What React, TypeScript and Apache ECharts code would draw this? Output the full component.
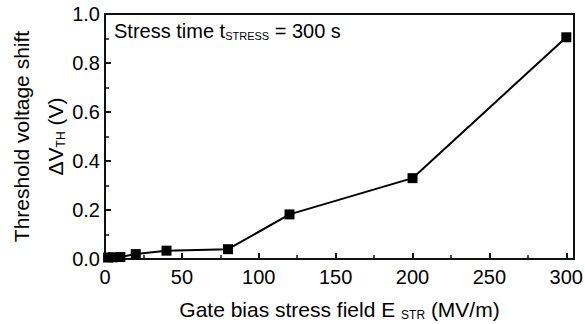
import React, { useEffect, useRef } from "react";
import * as echarts from "echarts";

const fieldValues = [2, 5, 10, 20, 40, 80, 120, 200, 300];
const vthShift = [0.006, 0.007, 0.008, 0.02, 0.034, 0.04, 0.182, 0.33, 0.905];
const xTicks = { min: 0, max: 305, interval: 50 };
const yTicks = { min: 0, max: 1.0, interval: 0.2 };

const FONT = "Liberation Sans, Arial, sans-serif";
const INK = "#111";

function axisParts() {
  return {
    axisLine: { show: true, lineStyle: { color: INK, width: 2 } },
    axisTick: { show: true, inside: true, length: 6, lineStyle: { color: INK, width: 2 } },
    minorTick: { show: true, splitNumber: 2, length: 4, lineStyle: { color: INK, width: 1.5 } },
    splitLine: { show: false },
  };
}

export default function App() {
  const ref = useRef<HTMLDivElement>(null);
  useEffect(() => {
    if (!ref.current) return;
    const chart = echarts.init(ref.current, null, { renderer: "svg" });
    chart.setOption({
      animation: false,
      backgroundColor: "#fff",
      grid: {
        left: 105,
        right: 11,
        top: 14,
        bottom: 65,
        containLabel: false,
        outerBoundsMode: "none",
        show: true,
        borderColor: INK,
        borderWidth: 2,
        backgroundColor: "transparent",
      },
      xAxis: {
        type: "value",
        min: xTicks.min,
        max: xTicks.max,
        interval: xTicks.interval,
        ...axisParts(),
        axisLabel: {
          color: "#000",
          fontFamily: FONT,
          fontSize: 20,
          margin: 8,
          formatter: (v: number) => (v <= 300 ? String(v) : ""),
        },
        name: "Gate bias stress field E {sub|STR} (MV/m)",
        nameLocation: "middle",
        nameGap: 38,
        nameMoveOverlap: false,
        nameTextStyle: {
          color: "#000",
          fontFamily: FONT,
          fontSize: 21,
          rich: {
            sub: { fontSize: 12, fontFamily: FONT, color: "#000", padding: [12, 0, 0, 0] },
          },
        },
      },
      yAxis: {
        type: "value",
        min: yTicks.min,
        max: yTicks.max,
        interval: yTicks.interval,
        ...axisParts(),
        axisLabel: {
          color: "#000",
          fontFamily: FONT,
          fontSize: 20,
          margin: 5,
          formatter: (v: number) => v.toFixed(1),
        },
        name: "Threshold voltage shift\nΔV{sub|TH} (V)",
        nameLocation: "middle",
        nameRotate: 90,
        nameGap: 33,
        nameMoveOverlap: false,
        nameTextStyle: {
          color: "#000",
          fontFamily: FONT,
          fontSize: 21,
          lineHeight: 34,
          rich: {
            sub: { fontSize: 12, fontFamily: FONT, color: "#000", padding: [12, 0, 0, 0] },
          },
        },
      },
      series: [
        {
          type: "line",
          data: fieldValues.map((x, i) => [x, vthShift[i]]),
          symbol: "rect",
          symbolSize: 10,
          itemStyle: { color: "#000" },
          lineStyle: { color: "#000", width: 2 },
          clip: false,
        },
      ],
      graphic: [
        {
          type: "text",
          left: 114,
          top: 21,
          style: {
            text: "Stress time t{sub|STRESS} = 300 s",
            fill: "#000",
            font: `20px ${FONT}`,
            rich: {
              sub: { fontSize: 11, fontFamily: FONT, fill: "#000", padding: [10, 0, 0, 0] },
            },
          },
        },
      ],
    });
    return () => chart.dispose();
  }, []);
  return <div ref={ref} style={{ width: 585, height: 324, position: "absolute", left: 0, top: 0 }} />;
}
